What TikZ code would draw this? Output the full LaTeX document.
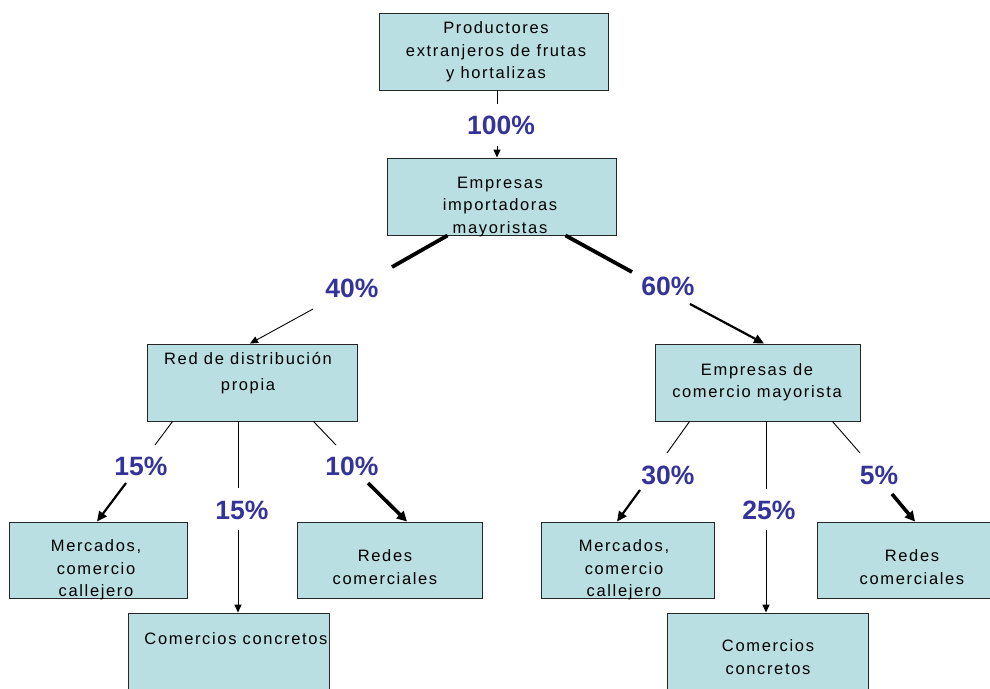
\documentclass[tikz,border=0pt]{standalone}
\usepackage{fontspec}
\setmainfont{Liberation Sans}[LetterSpace=10]
\newfontfamily\lblfont{Liberation Sans}
\usetikzlibrary{arrows.meta}
\definecolor{boxfill}{RGB}{186,223,226}
\definecolor{lblblue}{RGB}{51,51,153}
\tikzset{
  box/.style={draw=black!85, line width=0.9pt, fill=boxfill, inner sep=0pt},
  txt/.style={align=center, inner sep=0pt, font=\fontsize{16.5}{22.5}\selectfont},
  pct/.style={inner sep=0pt, text=lblblue, font=\lblfont\bfseries\fontsize{26.5}{26.5}\selectfont},
  thinline/.style={line width=0.9pt},
  thinarrow/.style={line width=0.9pt, -{Triangle[length=8pt,width=7pt]}},
  midarrow/.style={line width=2.2pt, -{Triangle[length=10pt,width=9pt]}},
  heavyarrow/.style={line width=3.6pt, -{Triangle[length=10pt,width=10pt]}},
  heavyline/.style={line width=3.8pt},
}
\begin{document}
\begin{tikzpicture}[x=1pt,y=-1pt]
\useasboundingbox (0,0) rectangle (990,688);
% boxes
\node[box, minimum width=229pt, minimum height=77pt] (top) at (494,51.5) {};
\node[box, minimum width=229pt, minimum height=77pt] (imp) at (501.5,196.5) {};
\node[box, minimum width=210pt, minimum height=77pt] (red) at (252,382.5) {};
\node[box, minimum width=205pt, minimum height=77pt] (emp) at (757.5,382.5) {};
\node[box, minimum width=178pt, minimum height=76pt] (mercL) at (98,560) {};
\node[box, minimum width=185pt, minimum height=76pt] (redesL) at (389.5,560) {};
\node[box, minimum width=201pt, minimum height=77pt] (comL) at (228.5,651.5) {};
\node[box, minimum width=173pt, minimum height=76pt] (mercR) at (627.5,560) {};
\node[box, minimum width=175pt, minimum height=76pt] (redesR) at (904.5,560) {};
\node[box, minimum width=201pt, minimum height=77pt] (comR) at (767.5,651.5) {};
% texts
\node[txt] (topT) at (496,52) {Productores\\extranjeros de frutas\\y hortalizas};
\node[txt] (impT) at (500,207) {Empresas\\importadoras\\mayoristas};
\node[txt, font=\fontsize{16.5}{26}\selectfont] (redT) at (248,373) {Red de distribución\\propia};
\node[txt, font=\fontsize{16.5}{21.5}\selectfont] (empT) at (757,382) {Empresas de\\comercio mayorista};
\node[txt] (mercLT) at (96,570) {Mercados,\\comercio\\callejero};
\node[txt] (redesLT) at (385,567) {Redes\\comerciales};
\node[txt] (comLT) at (236,639) {Comercios concretos};
\node[txt] (mercRT) at (624,570) {Mercados,\\comercio\\callejero};
\node[txt] (redesRT) at (912,567) {Redes\\comerciales};
\node[txt] (comRT) at (768,657) {Comercios\\concretos};
% percentages
\node[pct] (p100) at (501,125.5) {100\%};
\node[pct] (p40) at (352,288) {40\%};
\node[pct] (p60) at (668,286) {60\%};
\node[pct] (p15a) at (141,466) {15\%};
\node[pct] (p15b) at (242,510) {15\%};
\node[pct] (p10) at (352,466) {10\%};
\node[pct] (p30) at (668,475) {30\%};
\node[pct] (p25) at (769,510) {25\%};
\node[pct] (p5) at (879,475) {5\%};
% break coordinates
\coordinate (b100a) at (497,104);
\coordinate (b100b) at (497,146);
\coordinate (b40a) at (392,267);
\coordinate (b40b) at (313,309);
\coordinate (b60a) at (632,272);
\coordinate (b60b) at (690,304);
\coordinate (b15aa) at (155,445);
\coordinate (b15ab) at (126,483);
\coordinate (b15ba) at (238,488);
\coordinate (b15bb) at (238,530);
\coordinate (b10a) at (336,445);
\coordinate (b10b) at (368,483);
\coordinate (b30a) at (667,453);
\coordinate (b30b) at (640,490);
\coordinate (b25a) at (766,489);
\coordinate (b25b) at (766,530);
\coordinate (b5a) at (860,453);
\coordinate (b5b) at (892,494);
% connectors
\draw[thinline] ([xshift=3pt]top.south) -- (b100a);
\draw[thinarrow] (b100b) -- ([xshift=-4.5pt]imp.north);
\draw[heavyline] ([xshift=61pt]imp.south west) -- (b40a);
\draw[thinarrow] (b40b) -- ([xshift=-2pt]red.north);
\draw[heavyline] ([xshift=-51pt]imp.south east) -- (b60a);
\draw[midarrow] (b60b) -- ([xshift=6.5pt]emp.north);
\draw[thinline] ([xshift=26pt]red.south west) -- (b15aa);
\draw[midarrow] (b15ab) -- ([xshift=-1pt]mercL.north);
\draw[thinline] ([xshift=-14pt]red.south) -- (b15ba);
\draw[thinarrow] (b15bb) -- ([xshift=9.5pt]comL.north);
\draw[thinline] ([xshift=-44pt]red.south east) -- (b10a);
\draw[heavyarrow] (b10b) -- ([xshift=17.5pt]redesL.north);
\draw[thinline] ([xshift=35pt]emp.south west) -- (b30a);
\draw[midarrow] (b30b) -- ([xshift=-10.5pt]mercR.north);
\draw[thinline] ([xshift=8.5pt]emp.south) -- (b25a);
\draw[thinarrow] (b25b) -- ([xshift=-1.5pt]comR.north);
\draw[thinline] ([xshift=-28pt]emp.south east) -- (b5a);
\draw[heavyarrow] (b5b) -- ([xshift=10.5pt]redesR.north);
\end{tikzpicture}
\end{document}
